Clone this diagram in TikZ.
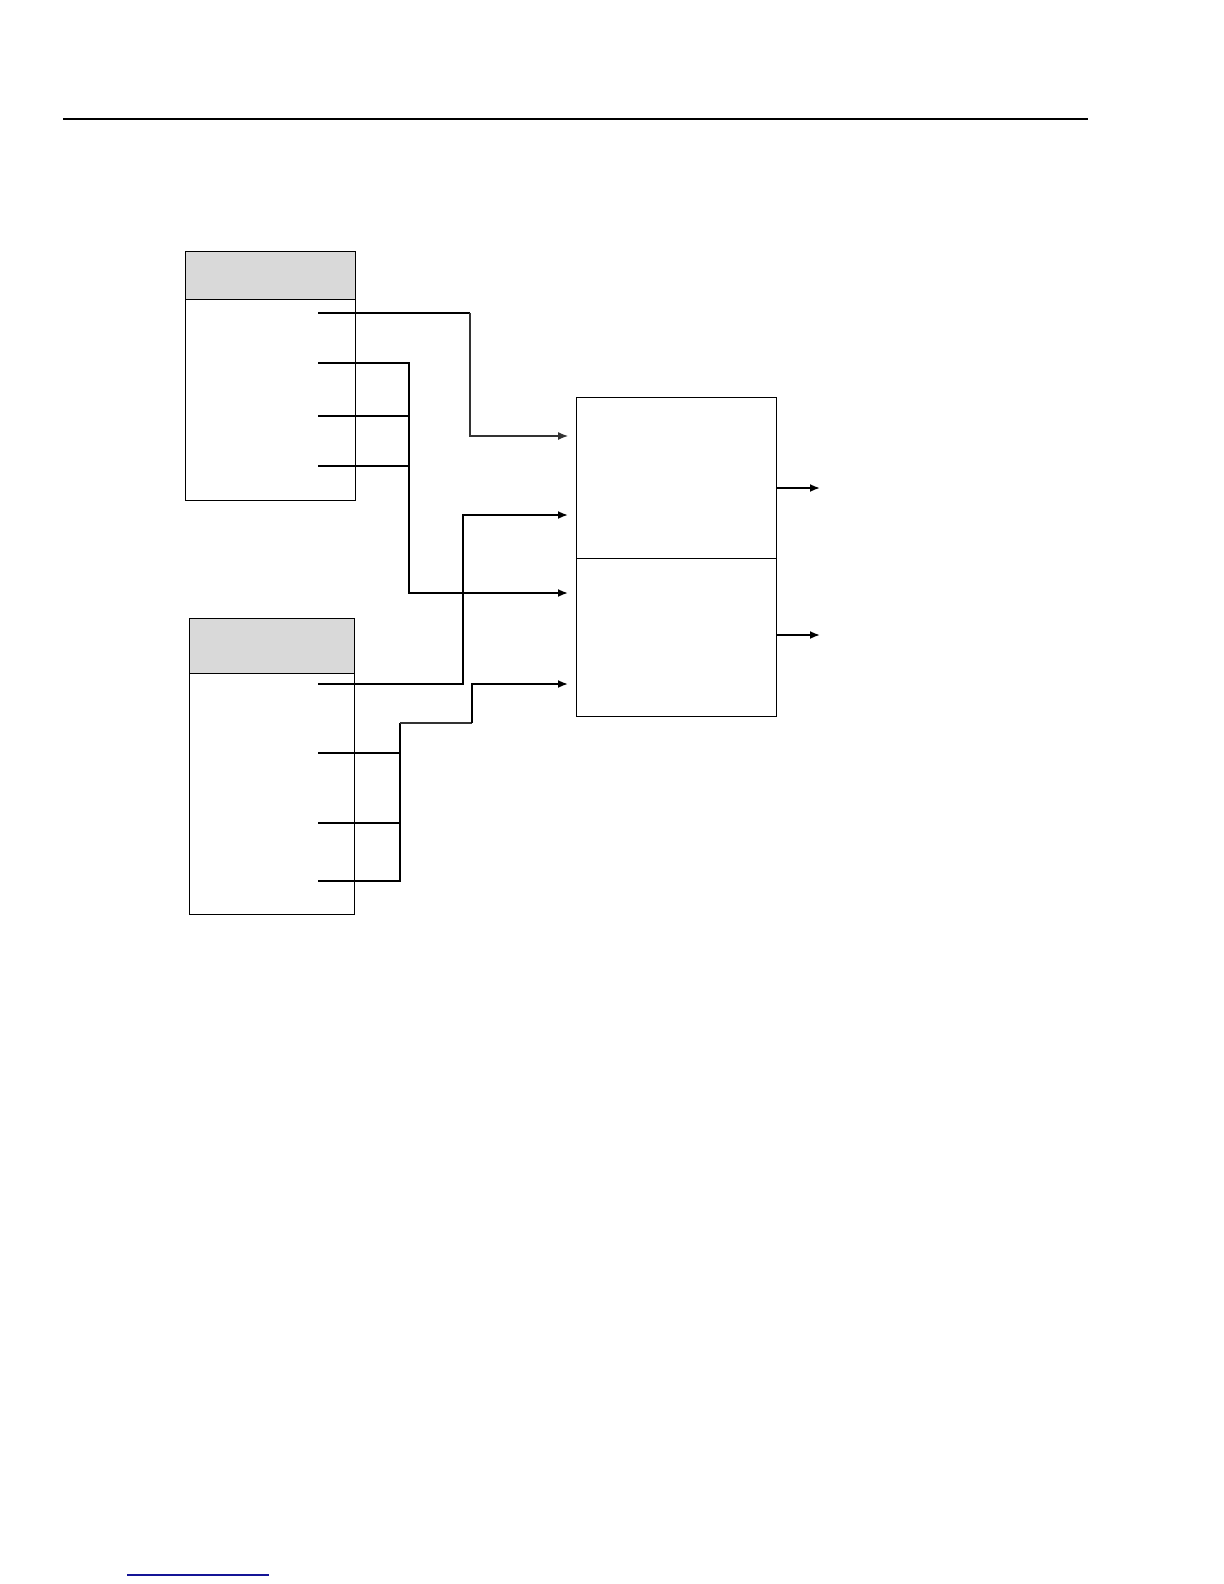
\documentclass[tikz,border=0pt]{standalone}
\usetikzlibrary{arrows.meta,calc}
\definecolor{hdr}{RGB}{217,217,217}
\definecolor{linkblue}{RGB}{20,20,150}
\tikzset{
  boxline/.style={draw=black, line width=0.6pt},
  hdrbox/.style={boxline, fill=hdr, inner sep=0pt, anchor=north west},
  bodybox/.style={boxline, fill=white, inner sep=0pt, anchor=north west},
  wire/.style={black, line width=0.9pt},
  thinwire/.style={black!80, line width=0.6pt},
  arr/.style={-{Latex[length=5pt,width=4pt]}},
}
\begin{document}
\begin{tikzpicture}[x=0.5pt,y=-0.5pt]
\useasboundingbox (0,0) rectangle (1224,1584);
% top rule
\coordinate (r1) at (63,119);
\coordinate (r2) at (1088,119);
\draw[line width=1.2pt] (r1) -- (r2);
% bottom link underline
\coordinate (u1) at (127,1575);
\coordinate (u2) at (269,1575);
\draw[linkblue, line width=0.6pt] (u1) -- (u2);

% box 1
\node[hdrbox, minimum width=85pt, minimum height=24pt] (h1) at (185,251) {};
\node[bodybox, minimum width=85pt, minimum height=100.5pt] (b1) at (185,299) {};
% box 2
\node[hdrbox, minimum width=82.5pt, minimum height=27.5pt] (h2) at (189,618) {};
\node[bodybox, minimum width=82.5pt, minimum height=120.5pt] (b2) at (189,673) {};
% main box
\node[bodybox, minimum width=100pt, minimum height=80.5pt] (m1) at (576,397) {};
\node[bodybox, minimum width=100pt, minimum height=79pt] (m2) at (576,558) {};

% ports box 1
\coordinate (p11) at (318,313);
\coordinate (p12) at (318,363);
\coordinate (p13) at (318,416);
\coordinate (p14) at (318,466);
% ports box 2
\coordinate (p21) at (318,684);
\coordinate (p22) at (318,753);
\coordinate (p23) at (318,823);
\coordinate (p24) at (318,881);
% inputs of main box
\coordinate (i1) at (568,436);
\coordinate (i2) at (568,515);
\coordinate (i3) at (568,593);
\coordinate (i4) at (568,684);
% outputs
\coordinate (o1) at (820,488);
\coordinate (o2) at (820,635);

% route 1: p11 -> i1
\draw[wire] (p11) -- (470,313);
\draw[thinwire, arr] (470,313) |- (i1);
% bus 1: p12,p13,p14 -> i3
\draw[wire, arr] (p12) -- (409,363) |- (i3);
\draw[wire] (p13) -- (409,416);
\draw[black, line width=0.7pt] (p14) -- (409,466);
% route box2 line1 -> i2
\draw[wire, arr] (p21) -- (463,684) |- (i2);
% bus 2: p22,p23,p24 -> i4
\draw[wire] (p24) -- (400,881) -- (400,723);
\draw[thinwire] (400,723) -- (472,723);
\draw[wire, arr] (472,723) |- (i4);
\draw[wire] (p22) -- (400,753);
\draw[wire] (p23) -- (400,823);

% outputs
\draw[wire, arr] (m1.east |- o1) -- (o1);
\draw[wire, arr] (m2.east |- o2) -- (o2);
\end{tikzpicture}
\end{document}
